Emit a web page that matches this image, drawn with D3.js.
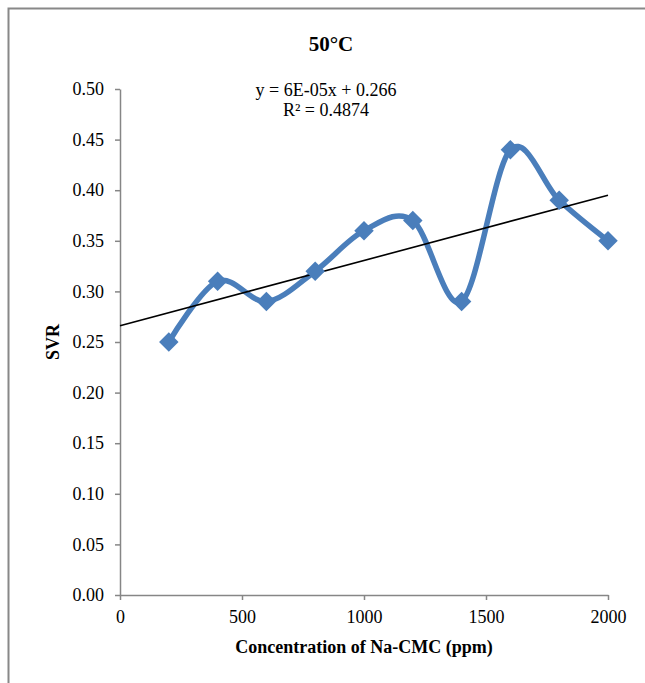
<!DOCTYPE html>
<head>
  <script src="https://d3js.org/d3.v7.min.js"></script>
  <style>
    body { margin: 0; background: #fff; }
    text { font-family: "Liberation Serif", "Times New Roman", serif; fill: #000; }
  </style>
</head>
<body>
<script type="text/javascript">
  var w = 645;
  var h = 683;

  var concentration = [200, 400, 600, 800, 1000, 1200, 1400, 1600, 1800, 2000];
  var svr = [0.25, 0.31, 0.29, 0.32, 0.36, 0.37, 0.29, 0.44, 0.39, 0.35];
  var xTicks = [0, 500, 1000, 1500, 2000];
  var yTicks = [0, 0.05, 0.10, 0.15, 0.20, 0.25, 0.30, 0.35, 0.40, 0.45, 0.50];

  var svg = d3.select("body").append("svg")
    .attr("width", w)
    .attr("height", h);

  // chart frame
  svg.append("rect")
    .attr("x", 8.5).attr("y", 8.5)
    .attr("width", 660).attr("height", 700)
    .attr("fill", "none")
    .attr("stroke", "#888")
    .attr("stroke-width", 2);

  var xScale = d3.scaleLinear().domain([0, 2000]).range([120, 608]);
  var yScale = d3.scaleLinear().domain([0, 0.5]).range([595, 89]);

  // y axis
  var yAxis = svg.append("g")
    .attr("transform", "translate(120,0)")
    .call(d3.axisLeft(yScale).tickValues(yTicks).tickSize(5).tickSizeOuter(0)
      .tickFormat(d3.format(".2f")));
  // x axis
  var xAxis = svg.append("g")
    .attr("transform", "translate(0,595)")
    .call(d3.axisBottom(xScale).tickValues(xTicks).tickSize(5).tickSizeOuter(0)
      .tickFormat(d3.format("d")));

  [yAxis, xAxis].forEach(function(g){
    g.select(".domain").attr("stroke", "#868686").attr("stroke-width", 1.5);
    g.selectAll(".tick line").attr("stroke", "#868686").attr("stroke-width", 1.5);
    g.selectAll(".tick text")
      .attr("font-family", "Liberation Serif, serif")
      .attr("font-size", 18)
      .attr("fill", "#000");
  });
  yAxis.selectAll(".tick text").attr("x", -16);
  xAxis.selectAll(".tick text").attr("y", 15);

  // linear trend line (least squares)
  var n = concentration.length;
  var mx = d3.mean(concentration), my = d3.mean(svr);
  var sxy = 0, sxx = 0;
  for (var i = 0; i < n; i++) {
    sxy += (concentration[i] - mx) * (svr[i] - my);
    sxx += (concentration[i] - mx) * (concentration[i] - mx);
  }
  var slope = sxy / sxx;
  var intercept = my - slope * mx;

  // smoothed series line
  var line = d3.line()
    .x(function(d, i){ return xScale(concentration[i]); })
    .y(function(d){ return yScale(d); })
    .curve(d3.curveCardinal.tension(0));

  svg.append("path")
    .datum(svr)
    .attr("d", line)
    .attr("fill", "none")
    .attr("stroke", "#4a7ebb")
    .attr("stroke-width", 5.5)
    .attr("stroke-linejoin", "round");

  svg.append("line")
    .attr("x1", xScale(0)).attr("y1", yScale(intercept))
    .attr("x2", xScale(2000)).attr("y2", yScale(intercept + slope * 2000))
    .attr("stroke", "#000")
    .attr("stroke-width", 1.6);

  // diamond markers
  svg.selectAll("path.marker")
    .data(svr)
    .enter()
    .append("path")
    .attr("class", "marker")
    .attr("d", d3.symbol().type(d3.symbolSquare).size(190))
    .attr("transform", function(d, i){
      return "translate(" + xScale(concentration[i]) + "," + yScale(d) + ") rotate(45)";
    })
    .attr("fill", "#4a7ebb");

  // titles
  svg.append("text")
    .attr("x", 331).attr("y", 51)
    .attr("text-anchor", "middle")
    .attr("font-size", 21).attr("font-weight", "bold")
    .text("50°C");

  svg.append("text")
    .attr("x", 326).attr("y", 96)
    .attr("text-anchor", "middle")
    .attr("font-size", 18)
    .text("y = 6E-05x + 0.266");
  svg.append("text")
    .attr("x", 326).attr("y", 116)
    .attr("text-anchor", "middle")
    .attr("font-size", 18)
    .text("R² = 0.4874");

  svg.append("text")
    .attr("transform", "translate(59,342) rotate(-90)")
    .attr("text-anchor", "middle")
    .attr("font-size", 18).attr("font-weight", "bold")
    .text("SVR");

  svg.append("text")
    .attr("x", 364).attr("y", 653)
    .attr("text-anchor", "middle")
    .attr("font-size", 18).attr("font-weight", "bold")
    .text("Concentration of Na-CMC (ppm)");
</script>
</body>
